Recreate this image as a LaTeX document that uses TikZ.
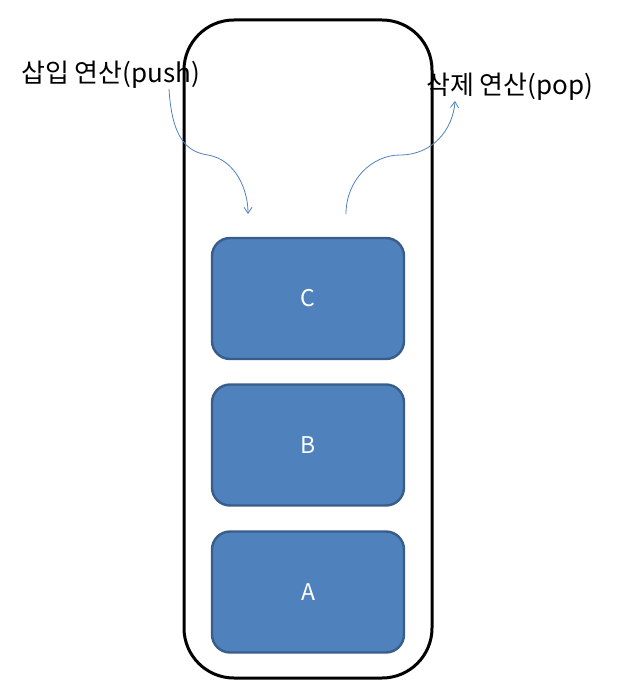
\documentclass[tikz,border=0pt]{standalone}
\usepackage{fontspec}
\setmainfont{Noto Sans CJK KR}
\usetikzlibrary{arrows.meta}
\definecolor{boxfill}{HTML}{4F81BD}
\definecolor{boxline}{HTML}{385D8A}
\tikzset{
  stackbox/.style={draw=boxline, fill=boxfill, line width=2.4pt, rounded corners=18pt,
    minimum width=192pt, minimum height=121pt, text=white, font=\fontsize{23}{26}\selectfont},
  oplabel/.style={anchor=west, inner sep=0pt, font=\fontsize{26}{30}\selectfont},
  oparrow/.style={draw=boxfill, line width=0.8pt, -{Straight Barb[length=6pt,width=8pt]}}
}
\begin{document}
\begin{tikzpicture}[x=1pt,y=-1pt]
\useasboundingbox (0,0) rectangle (637,690);
\draw[line width=3pt, rounded corners=50pt] (184,20) rectangle (432,678);

\node[stackbox] (c) at (308,298.5) {C};
\node[stackbox] (b) at (308,445) {B};
\node[stackbox] (a) at (308,592) {A};

\node[oplabel] (push) at (21,75) {삽입 연산(push)};
\node[oplabel] (pop) at (426,87) {삭제 연산(pop)};

\coordinate (pushin) at (248,214);
\coordinate (popout) at (346,214);

\draw[oparrow] (push.south east -| 169,95) .. controls (172,140) and (188,152) .. (208,155) .. controls (236,160) and (248,190) .. (pushin);
\draw[oparrow] (popout) .. controls (346,180) and (372,155) .. (400,155) .. controls (432,155) and (453,130) .. (pop.south -| 455,97);
\end{tikzpicture}
\end{document}
